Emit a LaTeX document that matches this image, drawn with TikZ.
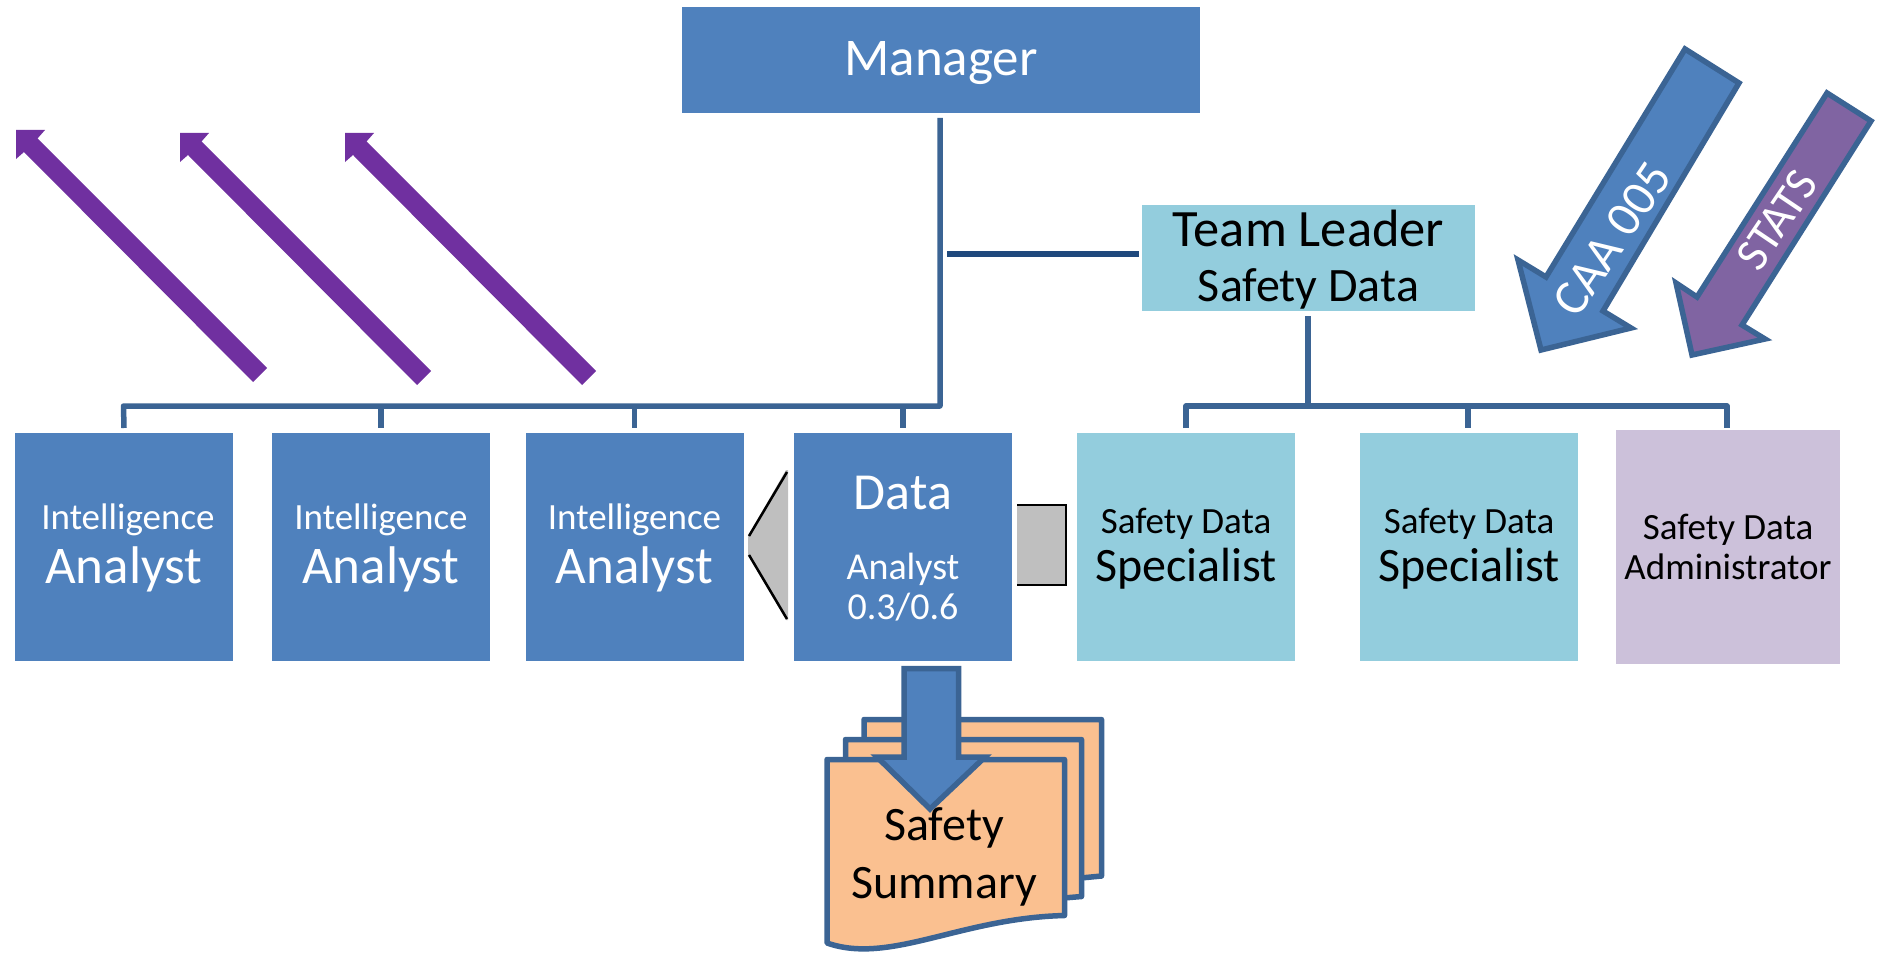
\documentclass[tikz,border=0pt]{standalone}
\usepackage{fontspec}
\setmainfont{Carlito}
\newcommand\tb[2]{\raisebox{#1pt}[0pt][0pt]{\parbox[c]{215pt}{\centering #2}}}
\newcommand\tbw[2]{\raisebox{#1pt}[0pt][0pt]{\parbox[c]{325pt}{\centering #2}}}
\newcommand\fsz[2]{\fontsize{#1}{#2}\selectfont}
\definecolor{cblue}{HTML}{4F81BD}
\definecolor{cedge}{HTML}{3B6494}
\definecolor{cnavy}{HTML}{1F497D}
\definecolor{clight}{HTML}{93CDDD}
\definecolor{clilac}{HTML}{CCC1DA}
\definecolor{cpurple}{HTML}{7030A0}
\definecolor{cstat}{HTML}{8064A2}
\definecolor{corange}{HTML}{FAC090}
\definecolor{cgray}{HTML}{BFBFBF}
\tikzset{
  x=1pt,y=-1pt,
  boxbase/.style={rectangle,inner sep=0pt,outer sep=0pt,minimum width=218pt,minimum height=228pt},
  bluebox/.style={boxbase,fill=cblue,text=white},
  lightbox/.style={boxbase,fill=clight,text=black},
  lilacbox/.style={boxbase,fill=clilac,text=black,minimum width=224pt,minimum height=234pt},
  conn/.style={draw=cedge,line width=5.5pt,line join=round},
  bigarrow/.style={draw=cedge,line width=5.5pt,line join=miter,miter limit=10,fill=cblue},
  docsheet/.style={draw=cedge,line width=5.5pt,line join=round,fill=corange},
  purplearrow/.style={fill=cpurple,draw=none},
  grayshape/.style={fill=cgray,draw=none},
  blackedge/.style={draw=black,line width=2.5pt,line join=miter},
  rottext/.style={text=white,inner sep=0pt,rotate=56}
}
\begin{document}
\begin{tikzpicture}
\useasboundingbox (0,0) rectangle (1878,955);
% top boxes
\node[bluebox,minimum width=518pt,minimum height=106pt] (mgr) at (941,60) {\tbw{-6}{\fsz{53}{60}Manager}};
\node[lightbox,minimum width=333pt,minimum height=106pt] (lead) at (1308.5,258) {\tbw{-4.5}{\fsz{52.5}{55}Team Leader\endgraf\fsz{48}{55}Safety Data}};
% row
\node[bluebox] (a1) at (124,547) {\tb{-3.7}{\fsz{37}{54}\hspace*{8pt}Intelligence\endgraf\fsz{53}{54}Analyst}};
\node[bluebox] (a2) at (381,547) {\tb{-3.7}{\fsz{37}{54}Intelligence\endgraf\fsz{53}{54}Analyst}};
\node[bluebox] (a3) at (634.5,547) {\tb{-3.7}{\fsz{37}{54}Intelligence\endgraf\fsz{53}{54}Analyst}};
\node[bluebox] (d) at (903,547) {\tb{-4.5}{\fsz{52}{50}Data\endgraf\fsz{38}{70}Analyst\endgraf\fsz{38}{40}0.3/0.6}};
\node[lightbox] (s1) at (1186,547) {\tb{-4.5}{\fsz{37}{50}Safety Data\endgraf\fsz{48}{48}Specialist}};
\node[lightbox] (s2) at (1469,547) {\tb{-4.5}{\fsz{37}{50}Safety Data\endgraf\fsz{48}{48}Specialist}};
\node[lilacbox] (adm) at (1728,547) {\tb{-2.5}{\fsz{37}{40}Safety Data\endgraf\fsz{37}{40}Administrator}};
% gray shapes
\fill[grayshape] (748,536) -- (786,470) -- (788,470) -- (788,620) -- (786,620) -- (748,555) -- cycle;
\draw[blackedge] (749,536) -- (787,472);
\draw[blackedge] (749,555) -- (787,619);
\fill[grayshape] (1017,505) rectangle (1066,585);
\draw[blackedge] (1017,505) -- (1066,505) -- (1066,585) -- (1017,585);
% connectors
\coordinate (busm) at (940,406);
\coordinate (busl) at (123.5,406);
\coordinate (busr) at (1308,406);
\coordinate (busra) at (1186,406);
\coordinate (busrb) at (1727,406);
\coordinate (leadmid) at (947,254);
\coordinate (mgrtop) at (940,118);
\coordinate (leadtop) at (1308,316);
\draw[conn] (mgrtop) -- (busm) -- (busl) -- (124,428);
\draw[conn] (381,406) -- (381,428);
\draw[conn] (634.5,406) -- (634.5,428);
\draw[conn] (903,406) -- (903,428);
\draw[conn] (leadtop) -- (busr);
\draw[conn] (1186,428) -- (busra) -- (busrb) -- (1727,428);
\draw[conn] (1468,406) -- (1468,428);
\draw[draw=cnavy,line width=6pt,shorten >=3pt] (leadmid) -- (lead.west |- leadmid);
% purple arrows
\foreach \dx/\dy/\nm in {0/0/p1,164/3/p2,329/3/p3}{
  \fill[purplearrow,shift={(\dx,\dy)}] (16,130) -- (45,130) -- (37.5,138.5) -- (267,368) -- (253,382) -- (24,152) -- (16,159) -- cycle;
}
% callout arrows
\draw[bigarrow] (1685,49) -- (1739,83) -- (1603,311) -- (1631,328) -- (1541,350) -- (1518,260) -- (1546,277) -- cycle;
\draw[bigarrow,fill=cstat] (1827,93) -- (1871,121) -- (1742,325) -- (1765,339) -- (1692,355) -- (1676,283) -- (1697,297) -- cycle;
\node[rottext] (caa) at (1612,239) {\fsz{50}{50}CAA 005};
\node[rottext] (stats) at (1777,220) {\fsz{47}{40}STATS};
% documents
\draw[docsheet] (864,719.5) -- (1101.5,719.5) -- (1101.5,876) -- (1060,880) -- (864,880) -- cycle;
\draw[docsheet] (845.5,739.5) -- (1081.5,739.5) -- (1081.5,896.5) -- (1040,900) -- (845.5,900) -- cycle;
\draw[docsheet] (827,759.5) -- (1064.5,759.5) -- (1064.5,915.5) .. controls (960,918) and (890,965) .. (827,943) -- cycle;
\node[text=black,inner sep=0pt] (doc) at (944,855) {\tb{-4.5}{\fsz{48}{58}Safety\endgraf Summary}};
% down arrow
\draw[bigarrow] (904,668.5) -- (958.5,668.5) -- (958.5,757) -- (985,757) -- (930,809) -- (877,757) -- (904,757) -- cycle;
\end{tikzpicture}
\end{document}
